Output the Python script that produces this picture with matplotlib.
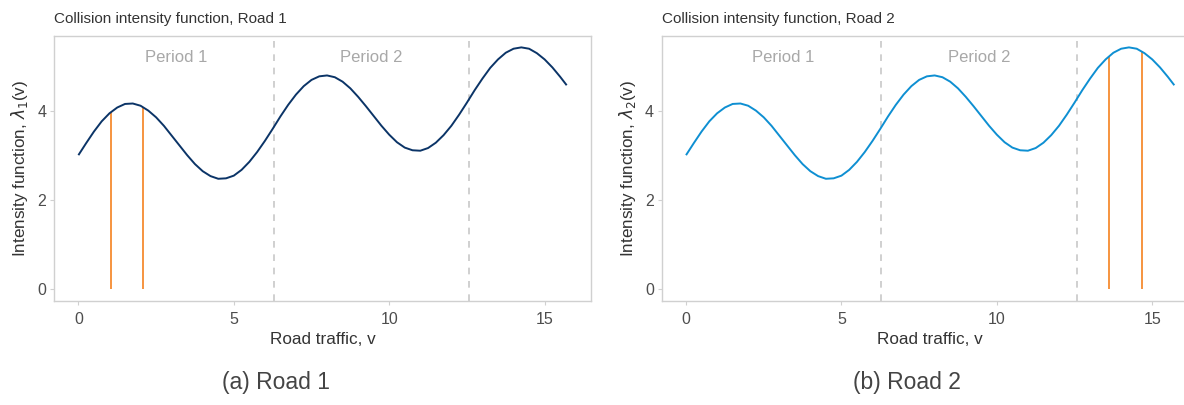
import matplotlib

matplotlib.use("Agg")
import matplotlib.pyplot as plt  # noqa: E402

plt.rcParams["font.family"] = ["Liberation Sans", "DejaVu Sans"]

# road traffic v and collision intensity lambda(v)
traffic = [0.0, 0.25, 0.5, 0.75, 1.0, 1.25, 1.5, 1.75, 2.0, 2.25, 2.5, 2.75,
           3.0, 3.25, 3.5, 3.75, 4.0, 4.25, 4.5, 4.75, 5.0, 5.25, 5.5, 5.75,
           6.0, 6.25, 6.5, 6.75, 7.0, 7.25, 7.5, 7.75, 8.0, 8.25, 8.5, 8.75,
           9.0, 9.25, 9.5, 9.75, 10.0, 10.25, 10.5, 10.75, 11.0, 11.25, 11.5, 11.75,
           12.0, 12.25, 12.5, 12.75, 13.0, 13.25, 13.5, 13.75, 14.0, 14.25, 14.5, 14.75,
           15.0, 15.25, 15.5, 15.71]
intensity = [3.00, 3.27, 3.53, 3.76, 3.94, 4.07, 4.15, 4.16, 4.11, 4.00, 3.85, 3.66,
             3.44, 3.22, 3.00, 2.80, 2.64, 2.53, 2.47, 2.48, 2.54, 2.67, 2.85, 3.07,
             3.32, 3.59, 3.87, 4.13, 4.36, 4.55, 4.69, 4.77, 4.79, 4.75, 4.65, 4.50,
             4.31, 4.10, 3.88, 3.66, 3.46, 3.29, 3.17, 3.11, 3.10, 3.16, 3.28, 3.45,
             3.66, 3.91, 4.18, 4.46, 4.72, 4.96, 5.15, 5.30, 5.39, 5.42, 5.39, 5.29,
             5.15, 4.97, 4.76, 4.57]

# period boundaries and labels
period_breaks = [6.283, 12.566]
period_label_x = [3.14, 9.42]
period_labels = ["Period 1", "Period 2"]

# collision events marked on each road: (v, lambda(v))
road1_events_v = [1.05, 2.09]
road1_events_h = [3.97, 4.08]
road2_events_v = [13.61, 14.66]
road2_events_h = [5.23, 5.33]

panels = [
    ("Collision intensity function, Road 1", r"Intensity function, $\lambda_1$(v)",
     "#0b3467", road1_events_v, road1_events_h, "(a) Road 1"),
    ("Collision intensity function, Road 2", r"Intensity function, $\lambda_2$(v)",
     "#0e8fd2", road2_events_v, road2_events_h, "(b) Road 2"),
]

fig = plt.figure(figsize=(11.84, 4.05), dpi=100)
# right panel runs past the figure edge, as in the reference crop
ax_rects = [[0.0456, 0.2556, 0.4535, 0.656], [0.5588, 0.2556, 0.4535, 0.656]]
caption_x = [0.233, 0.766]

for rect, cx, (title, ylab, col, ev_v, ev_h, cap) in zip(ax_rects, caption_x, panels):
    ax = fig.add_axes(rect)
    ax.plot(traffic, intensity, color=col, lw=1.4, solid_capstyle="butt", zorder=3)
    ax.vlines(ev_v, 0, ev_h, color="#f5821f", lw=1.2, zorder=2)
    for b in period_breaks:
        ax.axvline(b, color="#c8c8c8", lw=1.2, ls=(0, (4, 4)), zorder=1)
    for px, pl in zip(period_label_x, period_labels):
        ax.text(px, 5.2, pl, ha="center", va="center", fontsize=12, color="#a8a8a8")

    ax.set_xlim(-0.785, 16.49)
    ax.set_ylim(-0.285, 5.68)
    ax.set_xticks([0, 5, 10, 15])
    ax.set_yticks([0, 2, 4])
    ax.tick_params(colors="#d0d0d0", labelcolor="#4d4d4d", labelsize=11.5,
                   length=3, width=0.8, pad=2.5)
    ax.tick_params(axis="x", pad=4.5)
    for s in ax.spines.values():
        s.set_color("#d0d0d0")
        s.set_linewidth(1.0)
    ax.set_xlabel("Road traffic, v", fontsize=12.3, color="#333333", labelpad=3.5)
    ax.set_ylabel(ylab, fontsize=12.3, color="#333333", labelpad=5)
    ax.set_title(title, loc="left", fontsize=11, color="#333333", pad=9)
    fig.text(cx, 0.055, cap, ha="center", va="center", fontsize=16.5,
             color="#444444")

fig.savefig("out.png", dpi=100)
